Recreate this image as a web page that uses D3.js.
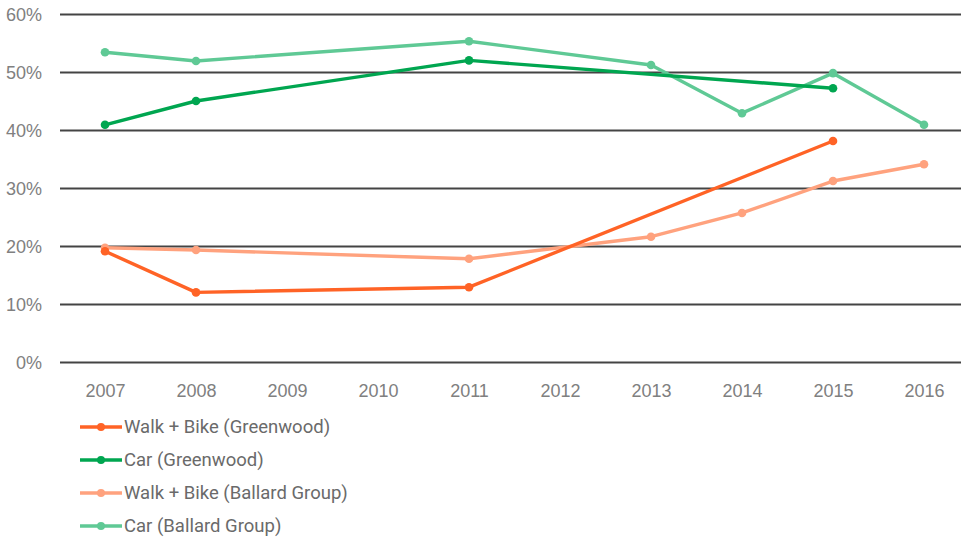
<!DOCTYPE html>
<html><head><meta charset="utf-8">
<script src="https://cdn.jsdelivr.net/npm/d3@7"></script>
<style>
html,body{margin:0;padding:0;background:#fff;}
svg{display:block;font-family:"Roboto","DejaVu Sans",sans-serif;}
</style></head>
<body><svg id="c" width="961" height="542"></svg>
<script>
const years = [2007,2008,2009,2010,2011,2012,2013,2014,2015,2016];
const yTicks = [0,10,20,30,40,50,60];
const walkBikeGreenwood = [[2007,19.1],[2008,12.0],[2011,12.9],[2015,38.1]];
const carGreenwood = [[2007,40.9],[2008,45.0],[2011,52.0],[2015,47.2]];
const walkBikeBallard = [[2007,19.7],[2008,19.3],[2011,17.8],[2013,21.6],[2014,25.7],[2015,31.2],[2016,34.1]];
const carBallard = [[2007,53.4],[2008,51.9],[2011,55.3],[2013,51.2],[2014,42.9],[2015,49.8],[2016,40.9]];
const seriesNames = ["Walk + Bike (Greenwood)","Car (Greenwood)","Walk + Bike (Ballard Group)","Car (Ballard Group)"];
const seriesColors = ["#ff6326","#00a650","#ffa27e","#5fc995"];
const seriesData = [walkBikeGreenwood, carGreenwood, walkBikeBallard, carBallard];

const svg = d3.select("#c");
const x = d3.scalePoint().domain(years).range([105,924]);
const y = d3.scaleLinear().domain([0,60]).range([362,14]);

const yAxis = d3.axisLeft(y).tickValues(yTicks).tickSize(-901).tickFormat(d=>d+"%").tickPadding(18);
const gy = svg.append("g").attr("transform","translate(60,0)").call(yAxis);
gy.select(".domain").remove();
gy.selectAll(".tick line").attr("stroke","#444").attr("stroke-width",1.8);
gy.selectAll(".tick text").attr("fill","#808080").attr("font-size",18).attr("dy","0.35em");

const xAxis = d3.axisBottom(x).tickSize(0).tickPadding(16);
const gx = svg.append("g").attr("transform","translate(0,368)").call(xAxis);
gx.select(".domain").remove();
gx.selectAll(".tick text").attr("fill","#808080").attr("font-size",18);

const line = d3.line().x(d=>x(d[0])).y(d=>y(d[1]));
const order = [2,3,0,1];
order.forEach(i=>{
  const g = svg.append("g");
  g.append("path").datum(seriesData[i]).attr("d",line).attr("fill","none")
    .attr("stroke",seriesColors[i]).attr("stroke-width",3.4).attr("stroke-linejoin","round");
  g.selectAll("circle").data(seriesData[i]).join("circle")
    .attr("cx",d=>x(d[0])).attr("cy",d=>y(d[1])).attr("r",4.3).attr("fill",seriesColors[i]);
});

const lg = svg.append("g");
seriesNames.forEach((n,i)=>{
  const yy = 427 + i*33;
  lg.append("line").attr("x1",80).attr("x2",122).attr("y1",yy).attr("y2",yy)
    .attr("stroke",seriesColors[i]).attr("stroke-width",3.4);
  lg.append("circle").attr("cx",101).attr("cy",yy).attr("r",4).attr("fill",seriesColors[i]);
  lg.append("text").attr("x",124).attr("y",yy).attr("dy","0.35em")
    .attr("fill","#6a6a6a").attr("font-size",18.5).text(n);
});
</script></body></html>
